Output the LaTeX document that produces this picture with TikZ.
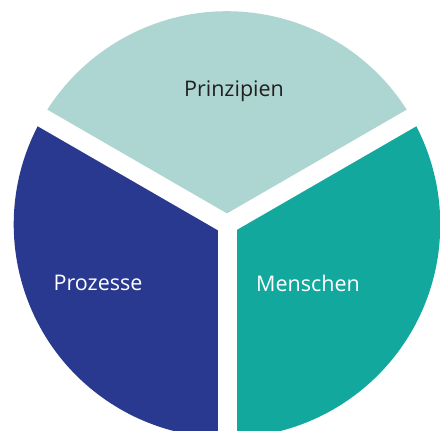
\documentclass[tikz,border=0pt]{standalone}
\usepackage{fontspec}
\setmainfont{Open Sans}
\usetikzlibrary{positioning}
\definecolor{prinzipien}{HTML}{ADD5D1}
\definecolor{prozesse}{HTML}{2A3990}
\definecolor{menschen}{HTML}{13A89E}
\definecolor{textdark}{HTML}{231F20}

\begin{document}
\begin{tikzpicture}[x=0.025cm,y=0.025cm,
  gap/.style={draw=white,line width=0.475cm},
  every node/.style={font=\fontsize{15.3}{17}\selectfont,inner sep=0pt}
]
\useasboundingbox (0,-431) rectangle (440,0);
\clip (0,-431) rectangle (440,0);
\coordinate (m) at (227,-224.5);
% three sectors
\fill[prinzipien] (m) -- +(30:5.33cm) arc[start angle=30,end angle=150,radius=5.33cm] -- cycle;
\fill[prozesse] (m) -- +(150:5.33cm) arc[start angle=150,end angle=270,radius=5.33cm] -- cycle;
\fill[menschen] (m) -- +(270:5.33cm) arc[start angle=270,end angle=390,radius=5.33cm] -- cycle;
% white gaps
\foreach \a in {30,150,270}
  \draw[gap] (m) -- +(\a:6cm);
% labels
\node[text=textdark] (prinzipien) at (234,-91) {Prinzipien};
\node[text=white] (prozesse) at (98,-283) {Prozesse};
\node[text=white] (menschen) at (308,-283) {Menschen};
\end{tikzpicture}
\end{document}
